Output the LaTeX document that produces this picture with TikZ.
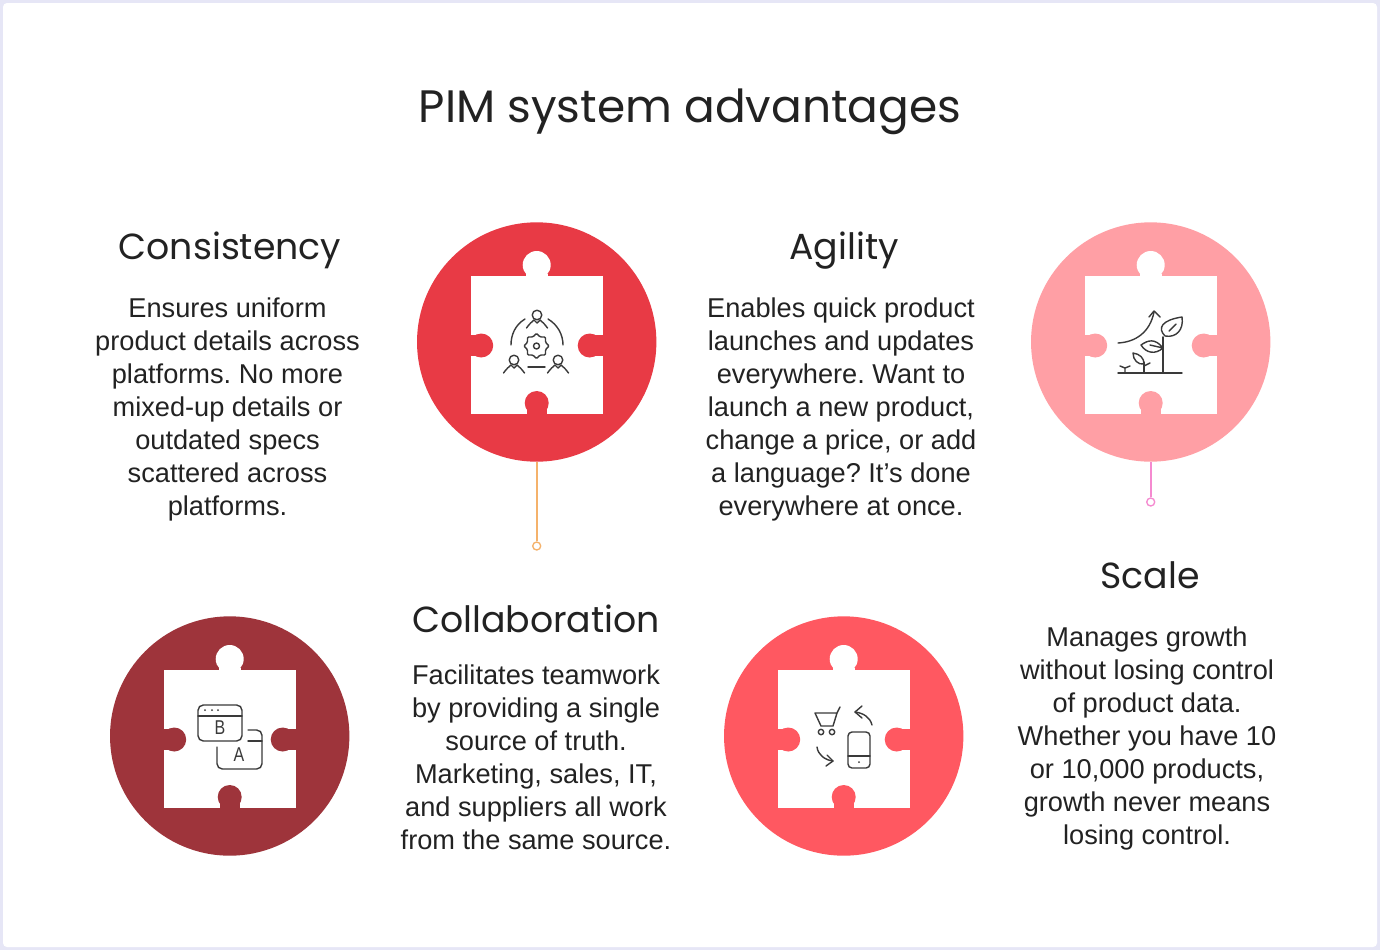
\documentclass[tikz,border=0pt]{standalone}
\usepackage{fontspec}
\setmainfont{Liberation Sans}
\newfontfamily\headfont{Poppins}
\usetikzlibrary{shapes.geometric}
\frenchspacing

\definecolor{framelilac}{HTML}{E6E6F6}
\definecolor{inkdark}{HTML}{222222}
\definecolor{iconink}{HTML}{3A3A3A}
\definecolor{discred}{HTML}{E83A45}
\definecolor{discpink}{HTML}{FF9FA5}
\definecolor{discmaroon}{HTML}{9E343B}
\definecolor{disccoral}{HTML}{FF5861}
\definecolor{stemorange}{HTML}{F5B26B}
\definecolor{stemmagenta}{HTML}{F58AD0}

\tikzset{every picture/.style={line width=0.75pt}}
\tikzset{
  titletext/.style={font=\headfont\fontsize{34.1}{40}\selectfont,text=inkdark,inner sep=0pt,anchor=base},
  headtext/.style={font=\headfont\fontsize{27.2}{30}\selectfont,text=inkdark,inner sep=0pt,anchor=base},
  bodytext/.style={font=\fontsize{20.4}{24.75}\selectfont,text=inkdark,align=center,inner sep=0pt},
  disc/.style={circle,minimum size=179.5pt,inner sep=0pt},
  stemring/.style={circle,draw,fill=white,minimum size=6pt,inner sep=0pt,line width=1pt},
  stemline/.style={line width=1.4pt},
  iconline/.style={draw=iconink,line width=1.05pt,line cap=round,line join=round},
  iconletter/.style={font=\fontsize{15}{15}\selectfont,text=iconink,inner sep=0pt},
}

% disc with the white puzzle piece: name, x, y, colour
\newcommand{\puzzlepiece}[4]{
  \node[disc,fill=#4] (#1disc) at (#2,#3) {};
  \begin{scope}[shift={(#2,#3)}]
    \fill[white] (-66,-66) rectangle (66,72);
    \fill[white] (0,-77) circle (14);
    \fill[white] (-11,-68) rectangle (11,-64);
    \fill[#4] (-55.5,3.5) circle (12);
    \fill[#4] (-67,-7) rectangle (-56,14);
    \fill[#4] (53,3.5) circle (12);
    \fill[#4] (54,-7) rectangle (67,14);
    \fill[#4] (0,61) circle (12);
    \fill[#4] (-10,62) rectangle (10,73);
  \end{scope}
}
% small person of the first icon: x, y of the head
\newcommand{\teamperson}[2]{
  \draw[iconline] (#1,#2) circle (4.8);
  \draw[iconline] (#1-10.5,#2+13) .. controls (#1-7,#2+8) and (#1-5,#2+7) .. (#1-3,#2+5);
  \draw[iconline] (#1+10.5,#2+13) .. controls (#1+7,#2+8) and (#1+5,#2+7) .. (#1+3,#2+5);
  \draw[iconline] (#1-3,#2+5) -- (#1,#2+8) -- (#1+3,#2+5);
}

\begin{document}
\begin{tikzpicture}[x=0.75pt,y=0.75pt,yscale=-1,xscale=1]
\useasboundingbox (0,0) rectangle (1380,950);

%background
\fill[framelilac] (0,0) rectangle (1380,950);
\fill[white,rounded corners=3pt] (3,3) rectangle (1377,947);

\node[titletext] (pimtitle) at (690,122) {PIM system advantages};

%discs
\puzzlepiece{consistency}{536.7}{342}{discred}
\puzzlepiece{agility}{1150.7}{342}{discpink}
\puzzlepiece{collaboration}{229.7}{736}{discmaroon}
\puzzlepiece{scale}{843.7}{736}{disccoral}

%stems
\node[stemring,draw=stemorange] (consistencyring) at (536.7,546) {};
\draw[stemline,stemorange] (consistencydisc) -- (consistencyring);
\node[stemring,draw=stemmagenta] (agilityring) at (1150.7,502) {};
\draw[stemline,stemmagenta] (agilitydisc) -- (agilityring);

%text blocks
\node[headtext] (consistencyhead) at (230,259) {Consistency};
\node[bodytext] (consistencybody) at (227.5,409) {Ensures uniform\\product details across\\platforms. No more\\mixed-up details or\\outdated specs\\scattered across\\platforms.};
\node[headtext] (agilityhead) at (844,259) {Agility};
\node[bodytext] (agilitybody) at (841,409) {Enables quick product\\launches and updates\\everywhere. Want to\\launch a new product,\\change a price, or add\\a language? It’s done\\everywhere at once.};
\node[headtext] (collaborationhead) at (536,632) {Collaboration};
\node[bodytext] (collaborationbody) at (536,757.5) {Facilitates teamwork\\by providing a single\\source of truth.\\Marketing, sales, IT,\\and suppliers all work\\from the same source.};
\node[headtext] (scalehead) at (1150,588) {Scale};
\node[bodytext] (scalebody) at (1147,738.5) {Manages growth\\without losing control\\of product data.\\Whether you have 10\\or 10,000 products,\\growth never means\\losing control.};

%team icon
\teamperson{537}{315}
\teamperson{514}{360}
\teamperson{558}{360}
\draw[iconline] (525,319) .. controls (515,325) and (511,335) .. (511,345);
\draw[iconline] (548,319) .. controls (558,325) and (563,335) .. (563,345);
\draw[iconline] (528,367) -- (545,367);
\node[star,star points=8,star point ratio=1.3,draw=iconink,line width=1.05pt,minimum size=19pt,inner sep=0pt,rounded corners=0.8pt] (teamgear) at (536.5,346) {};
\draw[iconline] (536.5,346) circle (3);

%plant icon
\draw[iconline] (1118,373) -- (1182,373);
\draw[iconline,line width=1.4pt] (1163,373) -- (1163,337);
\draw[iconline] (1165,336) .. controls (1157,328) and (1162,320) .. (1182,317) .. controls (1184,330) and (1176,338) .. (1165,336);
\draw[iconline] (1169,331) -- (1176,324);
\draw[iconline] (1163,348) .. controls (1155,338) and (1148,340) .. (1141,345) .. controls (1146,353) and (1155,355) .. (1163,348) -- (1150,345);
\draw[iconline] (1144,373) -- (1144,362);
\draw[iconline] (1144,364) .. controls (1144,358) and (1140,354) .. (1133,353) .. controls (1133,360) and (1138,365) .. (1144,364);
\draw[iconline] (1144,366) -- (1150,363);
\draw[iconline] (1125,373) -- (1125,368) -- (1120,366);
\draw[iconline] (1125,368) -- (1130,366);
\draw[iconline] (1118,343) .. controls (1136,342) and (1150,332) .. (1154,312);
\draw[iconline] (1149,317) -- (1154,311) -- (1160,317);

%ab test icon
\draw[iconline,rounded corners=4pt] (198,705) rectangle (242,741);
\draw[iconline] (198,716) -- (242,716);
\foreach \dotx in {205,212,218}
  \fill[iconink] (\dotx,710) circle (1);
\node[iconletter] (letterb) at (220,728) {\scalebox{0.8}[1]{B}};
\draw[iconline,rounded corners=4pt] (248,730) -- (262,730) -- (262,769) -- (217,769) -- (217,747);
\draw[iconline] (248,741) -- (262,741);
\node[iconletter] (lettera) at (239,755) {\scalebox{0.8}[1]{A}};

%cart and phone icon
\draw[iconline] (840,707) -- (837,713) -- (815,713) -- (821,726) -- (833,726) -- (837,713);
\draw[iconline] (821,732) circle (2.7);
\draw[iconline] (832,732) circle (2.7);
\draw[iconline,rounded corners=3pt] (848,732) rectangle (870,768);
\draw[iconline] (848,756) -- (870,756);
\fill[iconink] (859,762) circle (1);
\draw[iconline] (872,725) .. controls (870,717) and (863,713) .. (855,712);
\draw[iconline] (862,706) -- (855,712) -- (862,718);
\draw[iconline] (817,747) .. controls (818,755) and (825,760) .. (833,761);
\draw[iconline] (827,755) -- (833,761) -- (826,766);

\end{tikzpicture}
\end{document}
